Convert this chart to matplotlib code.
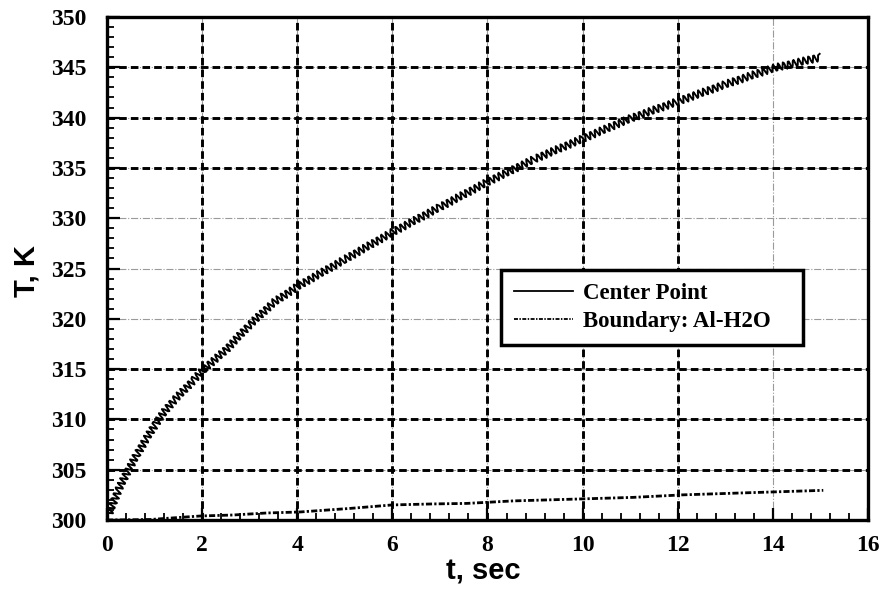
import numpy as np
import matplotlib
matplotlib.use("Agg")
import matplotlib.pyplot as plt
from matplotlib.ticker import MultipleLocator

# center point temperature (mean of the oscillating curve)
t_center = [0.05, 0.24, 0.43, 0.64, 0.83, 1.03, 1.23, 1.43, 1.64, 1.84, 2.04,
            2.5, 3.0, 3.5, 4.0, 5.0, 6.0, 7.0, 8.0, 9.0, 10.0, 11.0, 12.0,
            13.0, 14.0, 15.0]
T_center = [300.7, 303.0, 304.8, 306.6, 308.1, 309.6, 310.9, 312.0, 313.0,
            314.0, 315.0, 316.9, 319.4, 321.6, 323.2, 325.9, 328.6, 331.1,
            333.6, 335.9, 337.9, 339.9, 341.6, 343.3, 344.9, 346.0]

# boundary Al-H2O
t_bound = [0.0, 0.9, 1.96, 2.66, 3.36, 4.06, 5.1, 6.0, 6.86, 7.56, 8.54,
           10.0, 11.06, 12.1, 13.73, 15.06]
T_bound = [300.0, 300.05, 300.4, 300.5, 300.7, 300.8, 301.15, 301.5, 301.6,
           301.65, 301.9, 302.1, 302.25, 302.5, 302.75, 302.95]

labels = ["Center Point", "Boundary: Al-H2O"]

serif_bold = {"family": "Liberation Serif", "weight": "bold"}

fig = plt.figure(figsize=(8.82, 5.98), dpi=100)
ax = fig.add_axes([0.1213, 0.1304, 0.8628, 0.8412])

ax.set_xlim(0, 16)
ax.set_ylim(300, 350)
ax.xaxis.set_major_locator(MultipleLocator(2))
ax.xaxis.set_minor_locator(MultipleLocator(0.4))
ax.yaxis.set_major_locator(MultipleLocator(5))
ax.yaxis.set_minor_locator(MultipleLocator(1))

# grid: thin grey dash-dot everywhere, heavy black dashes on most lines
for x in [2, 4, 6, 8, 10, 12, 14]:
    ax.axvline(x, color="#9a9a9a", lw=0.8, ls="-.", zorder=1)
for y in [305, 310, 315, 320, 325, 330, 335, 340, 345]:
    ax.axhline(y, color="#9a9a9a", lw=0.8, ls="-.", zorder=1)
for x in [2, 4, 6, 8, 10, 12]:
    ax.axvline(x, color="black", lw=2.1, ls=(0, (2.6, 1.4)), zorder=1.5)
for y in [305, 310, 315, 335, 340, 345]:
    ax.axhline(y, color="black", lw=2.1, ls=(0, (2.6, 1.4)), zorder=1.5)

l1, = ax.plot(t_center, T_center, color="black", lw=1.4, label=labels[0],
              zorder=3)
# the center trace oscillates in a tight zigzag; drawn as a line style
l1.set_sketch_params(scale=3.7, length=5.2, randomness=1.0)
l2, = ax.plot(t_bound, T_bound, color="black", lw=2.0,
              ls=(0, (2.2, 0.8, 0.8, 0.8)), label=labels[1], zorder=3)

for s in ax.spines.values():
    s.set_linewidth(2.4)
ax.tick_params(which="both", direction="in", top=False, right=False,
               colors="black")
ax.tick_params(which="major", length=9, width=1.6)
ax.tick_params(which="minor", length=5, width=1.3)
ax.tick_params(axis="y", pad=15)
ax.tick_params(axis="x", pad=11)
for lab in ax.get_xticklabels() + ax.get_yticklabels():
    lab.set_fontfamily("Liberation Serif")
    lab.set_fontweight("bold")
    lab.set_fontsize(17)

ax.set_xlabel("t, sec", family="Liberation Sans", weight="bold", fontsize=21)
ax.set_ylabel("T, K", family="Liberation Sans", weight="bold", fontsize=21)
ax.xaxis.set_label_coords(0.495, -0.075)
ax.yaxis.set_label_coords(-0.088, 0.495)

leg = ax.legend(loc="upper left", bbox_to_anchor=(0.518, 0.346, 0.397, 0.151),
                mode="expand", prop={**serif_bold, "size": 16.5},
                fancybox=False, edgecolor="black", framealpha=1,
                handlelength=2.6, handletextpad=0.4, labelspacing=0.32,
                borderpad=0.55, borderaxespad=0)
leg.get_frame().set_linewidth(2.5)
for h in leg.get_lines():
    h.set_sketch_params(None)
    h.set_linewidth(1.3)
# legend anchored by its top edge
leg.set_bbox_to_anchor((0.518, 0.497 - 0.151, 0.397, 0.151),
                       transform=ax.transAxes)
leg._loc = 2
leg.set_zorder(5)

fig.savefig("out.png", dpi=100)
